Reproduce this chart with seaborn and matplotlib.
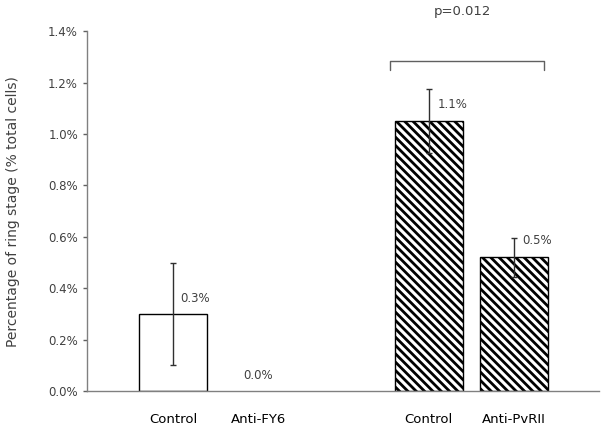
import numpy as np
import pandas as pd
import matplotlib
matplotlib.use("Agg")
import matplotlib.pyplot as plt
import seaborn as sns

# data (percent of total cells)
labels = ["Control", "Anti-FY6", "Control", "Anti-PvRII"]
positions = [0, 1, 3, 4]
values = [0.30, 0.0, 1.05, 0.52]
errors = [0.20, 0.0, 0.125, 0.075]
value_text = ["0.3%", "0.0%", "1.1%", "0.5%"]
hatches = ["", "", "\\\\\\\\", "\\\\\\\\"]
yticks = [0.0, 0.2, 0.4, 0.6, 0.8, 1.0, 1.2, 1.4]
p_text = "p=0.012"
bracket_y = 1.285

sns.set_style("white")
plt.rcParams["font.family"] = ["DejaVu Sans"]
plt.rcParams["hatch.linewidth"] = 2.0
txt = "#404040"

df = pd.DataFrame({"pos": positions, "val": values})

fig = plt.figure(figsize=(6.04, 4.38), dpi=100)
ax = fig.add_axes([0.144, 0.107, 0.848, 0.822])

sns.barplot(data=df, x="pos", y="val", native_scale=True, color="white",
            edgecolor="black", linewidth=1.0, errorbar=None, ax=ax)
for bar, h, v in zip(ax.patches, hatches, values):
    bar.set_hatch(h)
    bar.set_facecolor("white")
    if v == 0:
        bar.set_edgecolor("none")

# error bars (skip the empty bar)
for x, v, e in zip(positions, values, errors):
    if e > 0:
        ax.errorbar(x, v, yerr=e, fmt="none", ecolor="#303030",
                    elinewidth=1.0, capsize=2.5, capthick=1.0)

# value labels
offs = [(0.08, 0.06), (0, 0.06), (0.1, 0.065), (0.1, 0.065)]
for x, v, t, (dx, dy) in zip(positions, values, value_text, offs):
    ha = "center" if v == 0 else "left"
    ax.text(x + dx, v + dy, t, ha=ha, va="center", fontsize=8.5, color=txt)

# significance bracket
ax.plot([2.54, 2.54, 4.35, 4.35], [bracket_y - 0.035, bracket_y, bracket_y, bracket_y - 0.035],
        color="#606060", lw=1.0, clip_on=False)
ax.text(3.4, 1.475, p_text, ha="center", va="center", fontsize=9.5, color=txt)

ax.set_xlim(-1.01, 5.0)
ax.set_ylim(0, 1.4)
ax.set_yticks(yticks)
ax.set_yticklabels([f"{v:.1f}%" for v in yticks], fontsize=8.5, color=txt)
ax.set_xticks(positions)
ax.set_xticklabels(labels, fontsize=9.5, color="black")
ax.tick_params(axis="x", length=0, pad=16)
ax.tick_params(axis="y", length=3, width=1, color="#606060", direction="out", left=True)
ax.set_xlabel("")
ax.set_ylabel("Percentage of ring stage (% total cells)", fontsize=10, color=txt, labelpad=20)

for s in ["top", "right"]:
    ax.spines[s].set_visible(False)
for s in ["left", "bottom"]:
    ax.spines[s].set_color("#808080")
    ax.spines[s].set_linewidth(1.0)

fig.savefig("out.png", dpi=100)
